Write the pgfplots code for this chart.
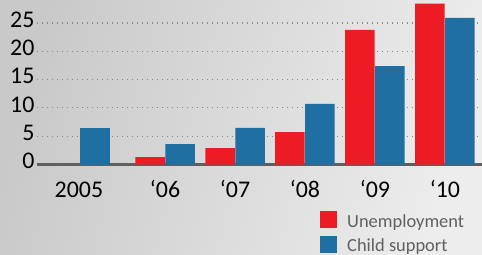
\documentclass[border=0pt]{standalone}
\usepackage{pgfplots}
\pgfplotsset{compat=1.18}
\usepackage{fontspec}
\setmainfont{Carlito}
\definecolor{cred}{HTML}{ED1C24}
\definecolor{cblue}{HTML}{1F6FA2}
\definecolor{bgL}{HTML}{C9C9C9}
\definecolor{bgR}{HTML}{EDEDED}
\definecolor{axisgray}{HTML}{5F5F5F}
\definecolor{gridgray}{HTML}{8A8A8A}
\definecolor{legtext}{HTML}{606060}
\begin{document}
\begin{tikzpicture}
\shade[left color=bgL, right color=bgR, shading angle=75] (0,0) rectangle (482bp,255bp);
\begin{axis}[
  at={(37bp,90.5bp)}, anchor=south west,
  scale only axis, width=445bp, height=164.5bp,
  xmin=-0.829, xmax=5.529, ymin=0, ymax=29.06,
  axis lines*=left,
  x axis line style={draw=axisgray, line width=2bp},
  y axis line style={draw=none},
  major tick length=0pt,
  ytick={0,5,10,15,20,25},
  xtick={-0.23,1,2,3,4,5},
  xticklabels={2005,‘06,‘07,‘08,‘09,‘10},
  ymajorgrids,
  major grid style={gridgray, line width=1.1bp, dash pattern=on 1.1bp off 3.9bp},
  /pgf/number format/assume math mode=true,
  tick label style={font=\fontsize{24}{28}\selectfont, text=black},
  xticklabel style={anchor=base, yshift=-33bp},
  yticklabel style={yshift=3.5bp, xshift=1bp},
  ybar, bar width=29.5bp,
  legend style={at={(rel axis cs:0.636,-0.284)}, anchor=north west, draw=none, fill=none,
    inner sep=0pt, font=\fontsize{18.5}{22}\selectfont, text=legtext,
    nodes={inner sep=0pt, text height=12.75bp, text depth=12.25bp},
    row sep=-3.5bp,
    /tikz/every odd column/.append style={column sep=10bp}},
  legend cell align=left,
]
\addplot[fill=cred, draw=none, bar shift=-15bp,
  legend image code/.code={\fill[cred] (0bp,-1.5bp) rectangle (17bp,15.5bp);}]
  coordinates {(1,1.3) (2,2.9) (3,5.7) (4,23.8) (5,28.4)};
\addlegendentry{Unemployment}
\addplot[fill=cblue, draw=none, bar shift=15bp,
  legend image code/.code={\fill[cblue] (0bp,-1.5bp) rectangle (17bp,15.5bp);}]
  coordinates {(1,3.6) (2,6.45) (3,10.7) (4,17.4) (5,25.9)};
\addlegendentry{Child support}
\addplot[fill=cblue, draw=none, bar shift=0bp, forget plot]
  coordinates {(0,6.5)};
\end{axis}
\pgfresetboundingbox
\path (0,0) rectangle (482bp,255bp);
\end{tikzpicture}
\end{document}
